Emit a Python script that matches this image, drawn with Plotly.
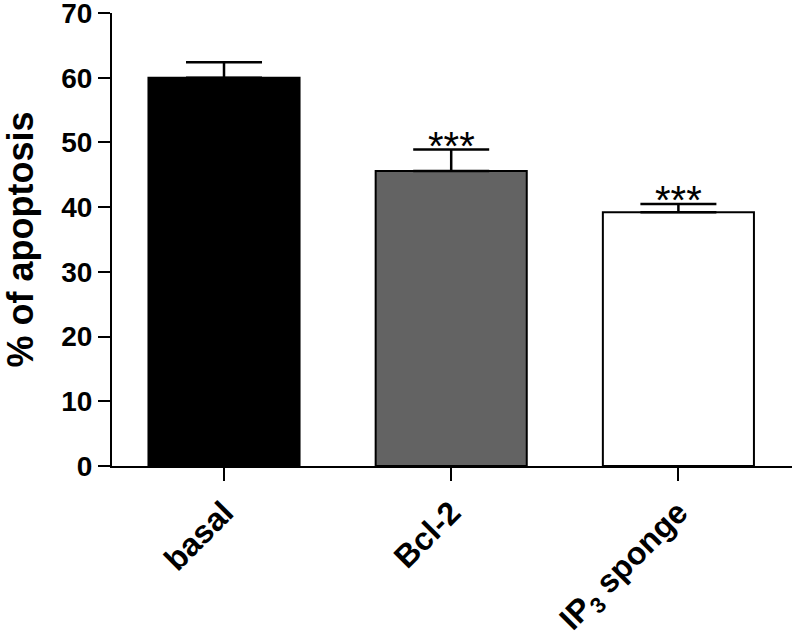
import plotly.graph_objects as go

categories = ["basal", "Bcl-2", "IP<sub>3</sub> sponge"]
means = [60.0, 45.6, 39.2]
sem = [2.4, 3.3, 1.3]
stars = ["", "***", "***"]
bar_colors = ["#000000", "#636363", "#ffffff"]
y_title = "% of apoptosis"

FONT = "Liberation Sans, Arial, sans-serif"

fig = go.Figure()
fig.add_trace(go.Bar(
    x=categories, y=means,
    width=0.665,
    marker=dict(color=bar_colors, line=dict(color="#000000", width=2)),
    error_y=dict(type="data", symmetric=False, array=sem, arrayminus=[0, 0, 0],
                 color="#000000", thickness=2.5, width=38),
    showlegend=False,
))

for c, m, s, st in zip(categories, means, sem, stars):
    if st:
        fig.add_annotation(x=c, y=m + s, text=st, showarrow=False, yanchor="bottom",
                           yshift=-20, font=dict(family=FONT, size=40, color="#000000"))

fig.update_layout(
    width=792, height=636,
    margin=dict(l=112, r=0, t=13, b=170),
    paper_bgcolor="white", plot_bgcolor="white",
    bargap=0.335,
    xaxis=dict(range=[-0.493, 2.5], showline=True, linecolor="black", linewidth=2,
               ticks="outside", ticklen=13, tickwidth=2, tickcolor="black",
               tickangle=-45, showgrid=False, zeroline=False, automargin=False,
               tickfont=dict(family=FONT, size=32, color="black", weight="bold")),
    yaxis=dict(range=[0, 70], tickvals=[0, 10, 20, 30, 40, 50, 60, 70],
               showline=True, linecolor="black", linewidth=2,
               ticks="outside", ticklen=12, tickwidth=2, tickcolor="black",
               showgrid=False, zeroline=False, automargin=False,
               ticklabeloverflow="allow",
               tickfont=dict(family=FONT, size=28, color="black", weight="bold"),
               title=dict(text=y_title, standoff=37,
                          font=dict(family=FONT, size=36, color="black", weight="bold"))),
)

fig.write_html("out.html", config={"displayModeBar": False},
               post_script="document.body.style.margin='0px';document.body.style.overflow='hidden';")
